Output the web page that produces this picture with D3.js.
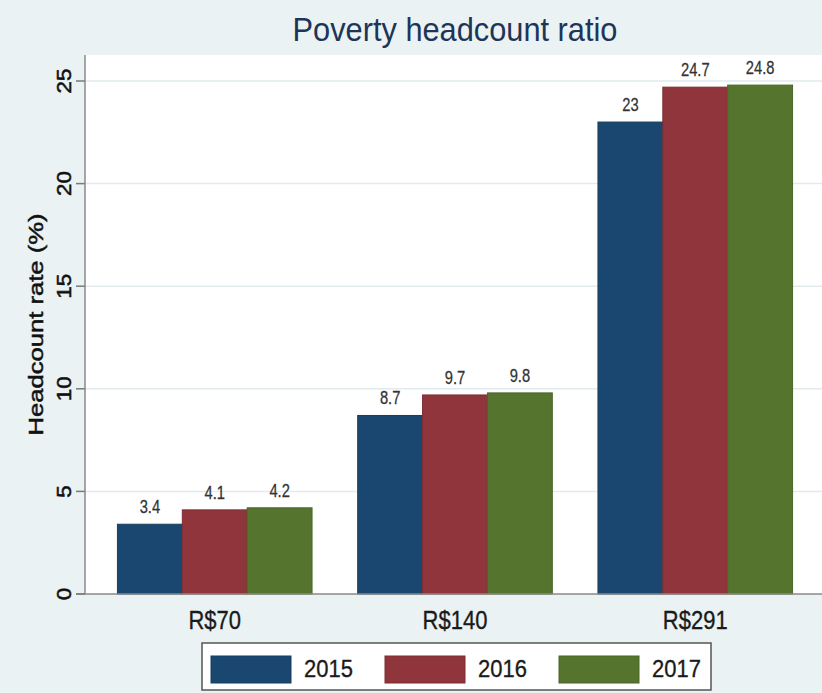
<!DOCTYPE html>
<html>
<head>
<meta charset="utf-8">
<script src="https://cdn.jsdelivr.net/npm/d3@7"></script>
<style>
  html, body { margin: 0; padding: 0; background: #eaf2f3; }
  svg { display: block; font-family: "Liberation Sans", Arial, sans-serif; }
</style>
</head>
<body>
<div id="chart"></div>
<script>
// Poverty headcount ratio by poverty line, grouped bars per year (Stata look).

const categories = ['R$70', 'R$140', 'R$291'];
const years = ['2015', '2016', '2017'];
const values2015 = [3.4, 8.7, 23];
const values2016 = [4.1, 9.7, 24.7];
const values2017 = [4.2, 9.8, 24.8];
const yTicks = [0, 5, 10, 15, 20, 25];

const YEAR_COLORS = {
    '2015': '#1a476f',
    '2016': '#90353b',
    '2017': '#55752f'
};

const width = 822, height = 693;
const plot = {left: 85, right: 822, top: 55, bottom: 594};

const svg = d3.select('#chart')
    .append('svg')
    .attr('width', width)
    .attr('height', height);

svg.append('rect')
    .attr('width', width).attr('height', height)
    .attr('fill', '#eaf2f3');

svg.append('rect')
    .attr('x', plot.left).attr('y', plot.top)
    .attr('width', plot.right - plot.left)
    .attr('height', plot.bottom - plot.top)
    .attr('fill', '#ffffff');

const series = years.map((yr, i) => ({
    year: yr,
    values: [values2015, values2016, values2017][i]
}));

const x0 = d3.scaleBand()
    .domain(categories)
    .range([plot.left, plot.right + 3])
    .paddingInner(0.19)
    .paddingOuter(0.135);

const x1 = d3.scaleBand()
    .domain(years)
    .range([0, x0.bandwidth()])
    .padding(0);

const y = d3.scaleLinear()
    .domain([0, 25])
    .range([plot.bottom, 81]);

// Gridlines
svg.append('g')
    .selectAll('line')
    .data(yTicks.filter(t => t > 0))
    .enter()
    .append('line')
    .attr('x1', plot.left).attr('x2', plot.right)
    .attr('y1', d => y(d)).attr('y2', d => y(d))
    .attr('stroke', '#e1eaed')
    .attr('stroke-width', 1.5);

// Bars
const rows = [];
categories.forEach((cat, ci) => {
    series.forEach(s => rows.push({cat: cat, year: s.year, value: s.values[ci]}));
});

svg.append('g')
    .selectAll('rect')
    .data(rows)
    .enter()
    .append('rect')
    .attr('x', d => x0(d.cat) + x1(d.year))
    .attr('y', d => y(d.value))
    .attr('width', x1.bandwidth())
    .attr('height', d => y(0) - y(d.value))
    .attr('fill', d => YEAR_COLORS[d.year])
    .attr('stroke', d => d3.color(YEAR_COLORS[d.year]).darker(0.4))
    .attr('stroke-width', 1);

// Value labels
svg.append('g')
    .selectAll('text')
    .data(rows)
    .enter()
    .append('text')
    .attr('transform', d => `translate(${x0(d.cat) + x1(d.year) + x1.bandwidth() / 2},${y(d.value) - 11}) scale(0.92,1.1)`)
    .attr('text-anchor', 'middle')
    .attr('font-size', 16)
    .attr('fill', '#333333')
    .attr('stroke', '#333333')
    .attr('stroke-width', 0.25)
    .text(d => String(d.value));

// Axis lines
svg.append('line')
    .attr('x1', plot.left).attr('x2', plot.left)
    .attr('y1', plot.top).attr('y2', plot.bottom)
    .attr('stroke', '#8a8a8a').attr('stroke-width', 1.5);
svg.append('line')
    .attr('x1', plot.left - 9).attr('x2', plot.right)
    .attr('y1', plot.bottom).attr('y2', plot.bottom)
    .attr('stroke', '#8a8a8a').attr('stroke-width', 1.5);

// Y ticks and rotated labels
const yAxis = svg.append('g');
yAxis.selectAll('line')
    .data(yTicks)
    .enter()
    .append('line')
    .attr('x1', plot.left - 9).attr('x2', plot.left)
    .attr('y1', d => y(d)).attr('y2', d => y(d))
    .attr('stroke', '#7a7a7a').attr('stroke-width', 1.5);
yAxis.selectAll('text')
    .data(yTicks)
    .enter()
    .append('text')
    .attr('transform', d => `translate(71,${y(d)}) rotate(-90) scale(1.12,1)`)
    .attr('text-anchor', 'middle')
    .attr('font-size', 20)
    .attr('fill', '#111111')
    .attr('stroke', '#111111')
    .attr('stroke-width', 0.5)
    .text(d => d);

svg.append('text')
    .attr('transform', `translate(43,${(plot.top + plot.bottom) / 2}) rotate(-90) scale(1.22,1)`)
    .attr('text-anchor', 'middle')
    .attr('font-size', 21)
    .attr('fill', '#111111')
    .attr('stroke', '#111111')
    .attr('stroke-width', 0.5)
    .text('Headcount rate (%)');

// Category labels
svg.append('g')
    .selectAll('text')
    .data(categories)
    .enter()
    .append('text')
    .attr('transform', d => `translate(${x0(d) + x0.bandwidth() / 2},629) scale(1,1.15)`)
    .attr('text-anchor', 'middle')
    .attr('font-size', 22)
    .attr('fill', '#1a1a1a')
    .attr('stroke', '#1a1a1a')
    .attr('stroke-width', 0.3)
    .text(d => d);

// Title
svg.append('text')
    .attr('transform', `translate(455,41) scale(0.905,1)`)
    .attr('text-anchor', 'middle')
    .attr('font-size', 34)
    .attr('fill', '#1e3557')
    .text('Poverty headcount ratio');

// Legend
const legend = svg.append('g').attr('transform', 'translate(202,643)');
legend.append('rect')
    .attr('width', 509).attr('height', 47)
    .attr('fill', '#ffffff')
    .attr('stroke', '#555555')
    .attr('stroke-width', 1.5);

const item = legend.selectAll('.item')
    .data(years)
    .enter()
    .append('g')
    .attr('class', 'item')
    .attr('transform', (d, i) => `translate(${9 + i * 174},13)`);
item.append('rect')
    .attr('width', 80).attr('height', 27)
    .attr('fill', d => YEAR_COLORS[d])
    .attr('stroke', d => d3.color(YEAR_COLORS[d]).darker(0.4))
    .attr('stroke-width', 1);
item.append('text')
    .attr('transform', 'translate(93,21) scale(1,1.08)')
    .attr('font-size', 22)
    .attr('fill', '#1a1a1a')
    .attr('stroke', '#1a1a1a')
    .attr('stroke-width', 0.3)
    .text(d => d);
</script>
</body>
</html>
